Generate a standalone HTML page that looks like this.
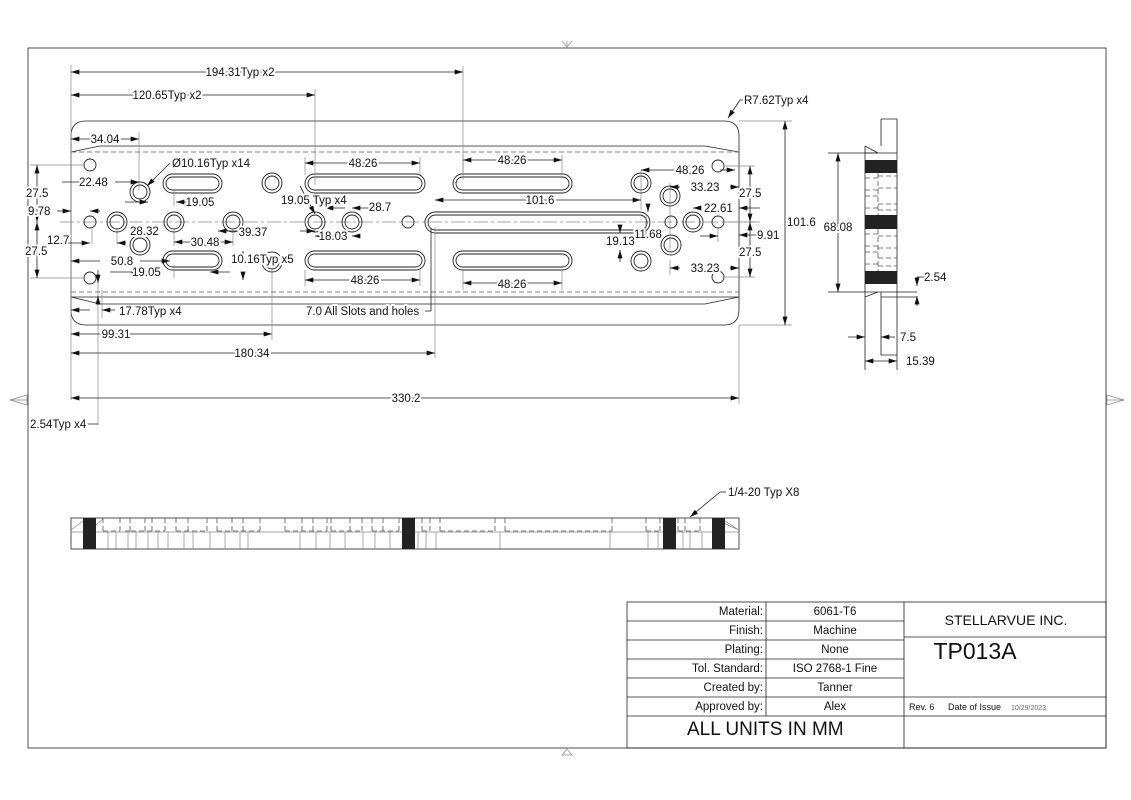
<!DOCTYPE html>
<html><head><meta charset="utf-8"><style>
html,body{margin:0;padding:0;background:#fff;}
svg{display:block;}
text{font-family:"Liberation Sans",sans-serif;font-size:11.5px;fill:#111;}
.t{stroke:#fff;stroke-width:4px;paint-order:stroke;stroke-linejoin:round;}
.l{stroke:#222;stroke-width:0.8;fill:none;}
.d{stroke:#555;stroke-width:0.8;fill:none;stroke-dasharray:5,3;}
.h{stroke:#222;stroke-width:0.9;fill:none;}
.g{stroke:#888;stroke-width:0.7;fill:none;}
</style></head><body>
<svg width="1131" height="800" viewBox="0 0 1131 800" xmlns="http://www.w3.org/2000/svg">
<defs>
<marker id="a" viewBox="0 0 10 6" refX="10" refY="3" markerWidth="9" markerHeight="5" orient="auto-start-reverse" markerUnits="userSpaceOnUse"><path d="M0,0 L10,3 L0,6 z" fill="#111"/></marker>
</defs>
<rect x="28" y="48" width="1078" height="700" class="l"/>
<path d="M562,41 L567,47 L572,41 M567,41 L567,47" class="g"/>
<path d="M562,755 L567,749 L572,755 Z" class="g"/>
<path d="M10,400 L27,395 L27,405 Z M10,400 L27,400" class="g"/>
<path d="M1124,400 L1107,395 L1107,405 Z M1107,400 L1124,400" class="g"/>

<path d="M86,121 L724,121 Q739,121 739,136 L739,310 Q739,325 724,325 L86,325 Q71,325 71,310 L71,136 Q71,121 86,121 Z" class="l"/>
<path d="M71,152 L100,146 L705,146 L739,152" class="l"/>
<line x1="71" y1="152" x2="739" y2="152" class="d"/>
<path d="M71,297 L100,304 L705,304 L739,297" class="l"/>
<line x1="71" y1="292" x2="739" y2="292" class="d"/>
<line x1="71" y1="297" x2="739" y2="297" class="l"/>
<line x1="60" y1="222" x2="760" y2="222" class="g" stroke-dasharray="14,3,3,3"/>

<g class="h">
<rect x="163" y="174" width="59" height="19" rx="9.5"/><rect x="166" y="177" width="53" height="13" rx="6.5"/>
<rect x="163" y="251" width="59" height="19" rx="9.5"/><rect x="166" y="254" width="53" height="13" rx="6.5"/>
<rect x="305" y="174" width="120" height="19" rx="9.5"/><rect x="308" y="177" width="114" height="13" rx="6.5"/>
<rect x="305" y="251" width="120" height="19" rx="9.5"/><rect x="308" y="254" width="114" height="13" rx="6.5"/>
<rect x="453" y="174" width="119" height="19" rx="9.5"/><rect x="456" y="177" width="113" height="13" rx="6.5"/>
<rect x="453" y="251" width="119" height="19" rx="9.5"/><rect x="456" y="254" width="113" height="13" rx="6.5"/>
<rect x="425" y="212" width="225" height="21" rx="10.5"/><rect x="428" y="215" width="219" height="15" rx="7.5"/>
</g>
<g class="h">
<circle cx="140" cy="192" r="10"/><circle cx="140" cy="192" r="7"/>
<circle cx="140" cy="245" r="10"/><circle cx="140" cy="245" r="7"/>
<circle cx="117" cy="222" r="10"/><circle cx="117" cy="222" r="7"/>
<circle cx="174" cy="222" r="10"/><circle cx="174" cy="222" r="7"/>
<circle cx="233" cy="222" r="10"/><circle cx="233" cy="222" r="7"/>
<circle cx="272" cy="183" r="10"/><circle cx="272" cy="183" r="7"/>
<circle cx="272" cy="262" r="10"/><circle cx="272" cy="262" r="7"/>
<circle cx="315" cy="222" r="10"/><circle cx="315" cy="222" r="7"/>
<circle cx="352" cy="222" r="10"/><circle cx="352" cy="222" r="7"/>
<circle cx="641" cy="183" r="10"/><circle cx="641" cy="183" r="7"/>
<circle cx="641" cy="261" r="10"/><circle cx="641" cy="261" r="7"/>
<circle cx="670" cy="196" r="10"/><circle cx="670" cy="196" r="7"/>
<circle cx="671" cy="245" r="10"/><circle cx="671" cy="245" r="7"/>
<circle cx="693" cy="222" r="10"/><circle cx="693" cy="222" r="7"/>
</g>
<g class="h" stroke-width="2.2">
<circle cx="90" cy="165" r="6"/><circle cx="90" cy="222" r="6"/><circle cx="90" cy="278" r="6"/>
<circle cx="408" cy="222" r="6"/>
<circle cx="671" cy="222" r="6"/><circle cx="718" cy="222" r="6"/>
<circle cx="718" cy="166" r="6"/><circle cx="718" cy="277" r="6"/>
</g>

<g class="g">
<line x1="71" y1="65" x2="71" y2="400"/>
<line x1="463" y1="66" x2="463" y2="180"/>
<line x1="315" y1="89" x2="315" y2="185"/>
<line x1="739" y1="325" x2="739" y2="404"/>
<line x1="739" y1="121" x2="792" y2="121"/>
<line x1="739" y1="325" x2="792" y2="325"/>
<line x1="139" y1="132" x2="139" y2="190"/>
<line x1="435" y1="227" x2="435" y2="358"/>
<line x1="272" y1="262" x2="272" y2="340"/>
<line x1="98" y1="283" x2="98" y2="425"/>
<line x1="102" y1="290" x2="102" y2="318"/>
<line x1="30" y1="165" x2="85" y2="165"/><line x1="30" y1="278" x2="85" y2="278"/>
<line x1="724" y1="166" x2="755" y2="166"/><line x1="724" y1="277" x2="755" y2="277"/>
<line x1="725" y1="222" x2="755" y2="222"/>
<line x1="305" y1="157" x2="305" y2="175"/><line x1="420" y1="157" x2="420" y2="175"/>
<line x1="463" y1="155" x2="463" y2="174"/><line x1="562" y1="155" x2="562" y2="174"/>
<line x1="305" y1="270" x2="305" y2="286"/><line x1="420" y1="270" x2="420" y2="286"/>
<line x1="463" y1="270" x2="463" y2="290"/><line x1="562" y1="270" x2="562" y2="290"/>
<line x1="174" y1="230" x2="174" y2="246"/><line x1="233" y1="230" x2="233" y2="246"/>
<line x1="174" y1="265" x2="174" y2="278"/><line x1="174" y1="190" x2="174" y2="206"/>
<line x1="117" y1="228" x2="117" y2="244"/><line x1="92" y1="228" x2="92" y2="244"/>
<line x1="641" y1="170" x2="641" y2="210"/>
<line x1="670" y1="183" x2="670" y2="250"/>
<line x1="670" y1="260" x2="670" y2="275"/>
<line x1="646" y1="214" x2="646" y2="240"/>
<line x1="718" y1="228" x2="718" y2="242"/>
</g>

<g class="l" marker-start="url(#a)" marker-end="url(#a)">
<line x1="71" y1="72" x2="463" y2="72"/>
<line x1="71" y1="95" x2="315" y2="95"/>
<line x1="71" y1="139" x2="139" y2="139"/>
<line x1="305" y1="163" x2="420" y2="163"/>
<line x1="463" y1="160" x2="562" y2="160"/>
<line x1="305" y1="280" x2="420" y2="280"/>
<line x1="463" y1="283" x2="562" y2="283"/>
<line x1="435" y1="200" x2="641" y2="200"/>
<line x1="174" y1="242" x2="233" y2="242"/>
<line x1="71" y1="334" x2="272" y2="334"/>
<line x1="71" y1="353" x2="435" y2="353"/>
<line x1="71" y1="398" x2="739" y2="398"/>
<line x1="785" y1="121" x2="785" y2="325"/>
<line x1="37" y1="165" x2="37" y2="222"/>
<line x1="37" y1="222" x2="37" y2="278"/>
<line x1="750" y1="166" x2="750" y2="222"/>
<line x1="750" y1="222" x2="750" y2="277"/>
<line x1="838" y1="153" x2="838" y2="292"/>
<line x1="865" y1="361" x2="897" y2="361"/>
</g>
<g class="l" marker-end="url(#a)">
<line x1="60" y1="243" x2="90" y2="243"/>
<line x1="126" y1="243" x2="117" y2="243"/>
<line x1="62" y1="182" x2="90" y2="182"/>
<line x1="115" y1="182" x2="139" y2="182"/>
<line x1="125" y1="202" x2="148" y2="202"/>
<line x1="200" y1="202" x2="176" y2="202"/>
<line x1="57" y1="211" x2="71" y2="211"/>
<line x1="100" y1="211" x2="90" y2="211"/>
<line x1="110" y1="272" x2="140" y2="272"/>
<line x1="230" y1="272" x2="210" y2="272"/>
<line x1="100" y1="261" x2="71" y2="261"/>
<line x1="140" y1="261" x2="170" y2="261"/>
<line x1="345" y1="208" x2="325" y2="208"/>
<line x1="372" y1="208" x2="352" y2="208"/>
<line x1="240" y1="231" x2="218" y2="231"/>
<line x1="300" y1="231" x2="315" y2="231"/>
<line x1="340" y1="236" x2="315" y2="236"/>
<line x1="360" y1="236" x2="352" y2="236"/>
<line x1="680" y1="170" x2="641" y2="170"/>
<line x1="720" y1="170" x2="735" y2="170"/>
<line x1="680" y1="187" x2="670" y2="187"/>
<line x1="730" y1="187" x2="739" y2="187"/>
<line x1="680" y1="268" x2="670" y2="268"/>
<line x1="730" y1="268" x2="739" y2="268"/>
<line x1="700" y1="208" x2="693" y2="208"/>
<line x1="700" y1="236" x2="718" y2="236"/>
<line x1="760" y1="208" x2="739" y2="208"/>
<line x1="760" y1="235" x2="739" y2="235"/>
<line x1="620" y1="226" x2="620" y2="233"/>
<line x1="620" y1="262" x2="620" y2="250"/>
<line x1="648" y1="206" x2="648" y2="212"/>
<line x1="300" y1="186" x2="315" y2="214"/>
<line x1="90" y1="310" x2="71" y2="310"/>
<line x1="115" y1="310" x2="102" y2="310"/>
<line x1="98" y1="270" x2="98" y2="283"/>
<line x1="98" y1="305" x2="98" y2="296"/>
<line x1="243" y1="255" x2="243" y2="251"/>
<line x1="243" y1="275" x2="243" y2="280"/>
<line x1="170" y1="163" x2="147" y2="186"/>
<line x1="740" y1="100" x2="728" y2="118"/>
<line x1="720" y1="492" x2="690" y2="517"/>
<line x1="917" y1="277" x2="917" y2="286"/>
<line x1="917" y1="306" x2="917" y2="296"/>
<line x1="848" y1="337" x2="865" y2="337"/>
<line x1="895" y1="337" x2="881" y2="337"/>
</g>
<g class="l">
<line x1="740" y1="100" x2="746" y2="100"/>
<line x1="720" y1="492" x2="726" y2="492"/>
<line x1="425" y1="311" x2="431" y2="311"/><line x1="431" y1="311" x2="431" y2="228"/>
<line x1="78" y1="424" x2="98" y2="424"/>
<line x1="917" y1="277" x2="926" y2="277"/>
</g>

<g class="t">
<text x="240" y="76" text-anchor="middle">194.31Typ x2</text>
<text x="167" y="99" text-anchor="middle">120.65Typ x2</text>
<text x="744" y="104">R7.62Typ x4</text>
<text x="105" y="143" text-anchor="middle">34.04</text>
<text x="172" y="167">Ø10.16Typ x14</text>
<text x="79" y="186">22.48</text>
<text x="363" y="167" text-anchor="middle">48.26</text>
<text x="512" y="164" text-anchor="middle">48.26</text>
<text x="690" y="174" text-anchor="middle">48.26</text>
<text x="26" y="197">27.5</text>
<text x="200" y="206" text-anchor="middle">19.05</text>
<text x="281" y="204">19.05 Typ x4</text>
<text x="380" y="211" text-anchor="middle">28.7</text>
<text x="540" y="204" text-anchor="middle">101.6</text>
<text x="705" y="191" text-anchor="middle">33.23</text>
<text x="739" y="197">27.5</text>
<text x="704" y="212">22.61</text>
<text x="28" y="215">9.78</text>
<text x="787" y="226">101.6</text>
<text x="47" y="244">12.7</text>
<text x="130" y="235">28.32</text>
<text x="205" y="246" text-anchor="middle">30.48</text>
<text x="253" y="236" text-anchor="middle">39.37</text>
<text x="333" y="240" text-anchor="middle">18.03</text>
<text x="634" y="238">11.68</text>
<text x="606" y="245">19.13</text>
<text x="757" y="239">9.91</text>
<text x="25" y="255">27.5</text>
<text x="739" y="256">27.5</text>
<text x="231" y="263">10.16Typ x5</text>
<text x="122" y="265" text-anchor="middle">50.8</text>
<text x="132" y="276">19.05</text>
<text x="705" y="272" text-anchor="middle">33.23</text>
<text x="365" y="284" text-anchor="middle">48.26</text>
<text x="512" y="288" text-anchor="middle">48.26</text>
<text x="306" y="315">7.0 All Slots and holes</text>
<text x="119" y="315">17.78Typ x4</text>
<text x="116" y="338" text-anchor="middle">99.31</text>
<text x="252" y="357" text-anchor="middle">180.34</text>
<text x="406" y="402" text-anchor="middle">330.2</text>
<text x="30" y="428">2.54Typ x4</text>
<text x="838" y="231" text-anchor="middle">68.08</text>
<text x="924" y="281">2.54</text>
<text x="900" y="341">7.5</text>
<text x="906" y="365">15.39</text>
<text x="728" y="496">1/4-20 Typ X8</text>
</g>

<g class="l">
<path d="M881,119 L897,119 L897,370 M881,119 L881,146 M865,146 L865,370 M881,292 L881,355 L897,355"/>
<path d="M865,146 L878,153 L865,153"/>
<line x1="828" y1="153" x2="897" y2="153"/>
<line x1="828" y1="292" x2="917" y2="292"/>
<line x1="881" y1="297" x2="917" y2="297"/>
<path d="M865,297 L878,292"/>
</g>
<g fill="#222">
<rect x="865" y="160" width="32" height="13"/>
<rect x="865" y="215" width="32" height="14"/>
<rect x="865" y="271" width="32" height="13"/>
</g>
<g class="d">
<path d="M865,178 H878 M878,176 H897 M865,190 H878 M878,188 H897 M865,196 H878 M878,204 H897 M865,208 H878 M878,210 H897"/>
<path d="M865,234 H878 M878,236 H897 M865,246 H878 M878,248 H897 M865,252 H878 M878,258 H897 M865,264 H878 M878,266 H897"/>
<path d="M878,173 V215 M878,229 V271"/>
</g>

<rect x="71" y="518" width="668" height="31" class="l"/>
<line x1="71" y1="532" x2="739" y2="532" class="g"/>
<path d="M71,530 L83,521 M96,525 L104,518 M712,518 L739,530 M725,521 L739,530" class="g"/>
<g fill="#222">
<rect x="83" y="518" width="13" height="31"/>
<rect x="402" y="518" width="13" height="31"/>
<rect x="663" y="518" width="13" height="31"/>
<rect x="712" y="518" width="13" height="31"/>
</g>
<g class="d">
<path d="M103,531 H120 M125,531 H130 M131,531 H165 M176,531 H207 M217,531 H260 M285,531 H327 M331,531 H362 M372,531 H399 M422,531 H430 M440,531 H495 M505,531 H612 M646,531 H660 M678,531 H700"/>
<path d="M103,518 V531 M120,518 V531 M130,518 V531 M145,518 V531 M152,518 V531 M165,518 V531 M176,518 V531 M188,518 V531 M207,518 V531 M217,518 V531 M232,518 V531 M243,518 V531 M260,518 V531 M285,518 V531 M302,518 V531 M313,518 V531 M327,518 V531 M331,518 V531 M350,518 V531 M362,518 V531 M372,518 V531 M383,518 V531 M399,518 V531 M422,518 V531 M430,518 V531 M440,518 V531 M495,518 V531 M505,518 V531 M612,518 V531 M646,518 V531 M660,518 V531 M678,518 V531 M685,518 V531 M700,518 V531"/>
</g>
<g class="g">
<path d="M108,532 V549 M116,532 V549 M128,532 V549 M136,532 V549 M148,532 V549 M158,532 V549 M168,532 V549 M184,532 V549 M193,532 V549 M210,532 V549 M225,532 V549 M240,532 V549 M248,532 V549 M300,532 V549 M316,532 V549 M330,532 V549 M345,532 V549 M363,532 V549 M375,532 V549 M390,532 V549 M418,532 V549 M426,532 V549 M436,532 V549 M500,532 V549 M610,532 V549 M648,532 V549 M658,532 V549 M683,532 V549 M690,532 V549 M702,532 V549"/>
</g>

<g class="l">
<rect x="627" y="602" width="479" height="146"/>
<line x1="904" y1="602" x2="904" y2="748"/>
<line x1="766" y1="602" x2="766" y2="716"/>
<line x1="627" y1="621" x2="904" y2="621"/>
<line x1="627" y1="640" x2="904" y2="640"/>
<line x1="627" y1="659" x2="904" y2="659"/>
<line x1="627" y1="678" x2="904" y2="678"/>
<line x1="627" y1="697" x2="1106" y2="697"/>
<line x1="627" y1="716" x2="1106" y2="716"/>
<line x1="904" y1="637" x2="1106" y2="637"/>
</g>
<g>
<text x="763" y="615" text-anchor="end">Material:</text>
<text x="835" y="615" text-anchor="middle">6061-T6</text>
<text x="763" y="634" text-anchor="end">Finish:</text>
<text x="835" y="634" text-anchor="middle">Machine</text>
<text x="763" y="653" text-anchor="end">Plating:</text>
<text x="835" y="653" text-anchor="middle">None</text>
<text x="763" y="672" text-anchor="end">Tol. Standard:</text>
<text x="835" y="672" text-anchor="middle">ISO 2768-1 Fine</text>
<text x="763" y="691" text-anchor="end">Created by:</text>
<text x="835" y="691" text-anchor="middle">Tanner</text>
<text x="763" y="710" text-anchor="end">Approved by:</text>
<text x="835" y="710" text-anchor="middle">Alex</text>
<text x="687" y="735" style="font-size:19px">ALL UNITS IN MM</text>
<text x="1006" y="625" text-anchor="middle" style="font-size:14px">STELLARVUE INC.</text>
<text x="975" y="659" text-anchor="middle" style="font-size:23px">TP013A</text>
<text x="909" y="710" style="font-size:9px">Rev. 6</text>
<text x="948" y="710" style="font-size:9px">Date of Issue</text>
<text x="1011" y="710" style="font-size:7px;fill:#666">10/29/2023</text>
</g>
</svg>
</body></html>
